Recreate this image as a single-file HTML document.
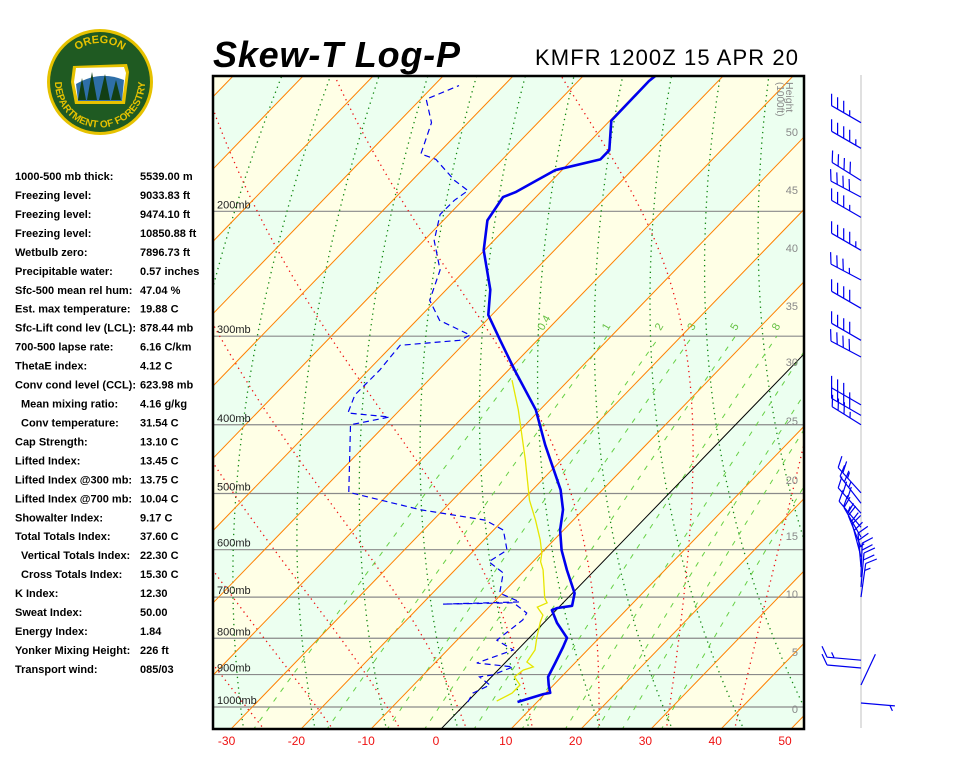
<!DOCTYPE html>
<html><head><meta charset="utf-8"><style>
html,body{margin:0;padding:0;background:#fff;width:960px;height:768px;overflow:hidden}
svg{display:block;font-family:"Liberation Sans",Arial,sans-serif}
</style></head><body>
<svg id="chart" width="960" height="768" viewBox="0 0 960 768" xmlns="http://www.w3.org/2000/svg">
<defs><clipPath id="plotclip"><rect x="214" y="77" width="589" height="651"/></clipPath>
<path id="arcTop" d="M 61 82 A 39 39 0 0 1 139 82"/>
<path id="arcBot" d="M 60 62 A 45 45 0 1 0 140 62"/></defs>
<g id="logo">
<circle cx="100" cy="82" r="53" fill="#e6c200"/>
<circle cx="100" cy="82" r="50" fill="#1f5a22"/>
<path d="M73 66 L127 64 L129 72 L125 104 L75 104 L71 82 Z" fill="#e6c200"/>
<path d="M76 68 L124 67 L126 73 L122 101 L78 101 L74 82 Z" fill="#fff"/>
<path d="M76 84 Q100 70 124 80 L122 101 L78 101 Z" fill="#2e6fa8"/>
<path d="M78 100 L82 78 L86 100 M87 100 L92 72 L97 100 M99 100 L105 74 L110 100 M111 100 L116 80 L121 100" fill="#123f14"/>
<text font-size="11" font-weight="bold" fill="#e6c200" text-anchor="middle"><textPath href="#arcTop" startOffset="50%">OREGON</textPath></text>
<text font-size="10" font-weight="bold" fill="#e6c200" text-anchor="middle"><textPath href="#arcBot" startOffset="50%">DEPARTMENT OF FORESTRY</textPath></text>
</g>
<text x="213" y="67" font-size="36" font-weight="bold" font-style="italic" textLength="247">Skew-T Log-P</text>
<text x="535" y="65" font-size="22" textLength="263">KMFR 1200Z 15 APR 20</text>
<g id="indices" font-size="11" font-weight="bold"></g>
<g id="plot" clip-path="url(#plotclip)"></g>
<g id="overlay"></g>
<rect x="213" y="76" width="591" height="653" fill="none" stroke="#000" stroke-width="2.5"/>
<line x1="861" y1="75" x2="861" y2="728" stroke="#e0e0e0" stroke-width="2"/>
<g id="barbs"></g>
</svg>
<script>
// ---- data ----
const tempP=[984,959,955,931,907,867,823,799,761,730,725,720,691,641,601,563,527,494,427,381,335,304,280,258,227,206,191,188,181,175,169,164,149,131,126];
const tempT=[7.2,9.8,10.6,9.3,8.1,7.2,6.1,5.4,1.9,-0.6,-0.1,1.7,0.3,-4.0,-7.5,-10.5,-12.9,-16.0,-24.4,-30.6,-39.1,-45.3,-50.5,-53.7,-60.1,-63.7,-64.7,-63.6,-62.2,-61.0,-56.0,-56.0,-59.8,-59.9,-59.4];
const dewP=[984,956,931,907,901,878,867,831,805,754,737,713,716,711,691,647,624,601,563,545,527,498,400,390,385,363,335,309,304,299,285,267,242,220,202,193,187,181,169,166,150,139,133];
const dewT=[0.1,-0.4,0.9,-1.7,-0.1,1.7,-4.0,-0.6,-4.3,-3.4,-3.8,-7.1,-17.0,-6.3,-10.4,-12.7,-16.3,-15.3,-18.6,-22.6,-33.3,-45.9,-55.0,-50.5,-57.0,-58.5,-58.4,-58.9,-51.1,-50.3,-56.7,-60.9,-63.6,-68.5,-71.3,-71.2,-70.6,-73.9,-79.5,-82.4,-85.2,-89.2,-86.4];
const wbP=[981,956,931,907,887,878,864,831,797,759,742,723,713,702,641,624,607,581,545,511,448,381,346];
const wbT=[4.1,5.2,5.2,3.3,3.6,4.6,3.0,2.5,1.0,-0.6,-1.2,-3.1,-2.3,-3.3,-7.4,-8.9,-9.9,-12.0,-15.4,-19.0,-25.2,-33.1,-38.1];
const pressureLevels=[200,300,400,500,600,700,800,900,1000];
const xTicks=[-30,-20,-10,0,10,20,30,40,50];
const heightTicks=[0,5,10,15,20,25,30,35,40,45,50];
const heightY=[709,652,594,536,480,421,362,306,248,190,132];
const mixRatios=[0.4,1,2,3,5,8,12,16,20,28];
const mixLabels=["0.4","1","2","3","5","8"];
const barbP=[150,163,181,191,204,227,250,274,304,321,375,388,400,499,516,533,558,576,595,614,635,656,677,700,859,881,931,987];
const barbDir=[300,300,302,298,300,300,298,300,300,298,300,300,302,318,322,318,320,330,338,345,355,2,5,8,275,275,25,95];
const barbSpd=[35,45,40,40,35,45,35,40,40,40,35,40,35,25,25,30,25,20,20,20,25,20,20,15,15,10,0,5];
const labels=["1000-500 mb thick:","Freezing level:","Freezing level:","Freezing level:","Wetbulb zero:","Precipitable water:","Sfc-500 mean rel hum:","Est. max temperature:","Sfc-Lift cond lev (LCL):","700-500 lapse rate:","ThetaE index:","Conv cond level (CCL):"," Mean mixing ratio:"," Conv temperature:","Cap Strength:","Lifted Index:","Lifted Index @300 mb:","Lifted Index @700 mb:","Showalter Index:","Total Totals Index:"," Vertical Totals Index:"," Cross Totals Index:","K Index:","Sweat Index:","Energy Index:","Yonker Mixing Height:","Transport wind:"];
const values=["5539.00 m","9033.83 ft","9474.10 ft","10850.88 ft","7896.73 ft","0.57 inches","47.04 %","19.88 C","878.44 mb","6.16 C/km","4.12 C","623.98 mb","4.16 g/kg","31.54 C","13.10 C","13.45 C","13.75 C","10.04 C","9.17 C","37.60 C","22.30 C","15.30 C","12.30","50.00","1.84","226 ft","085/03"];

// ---- axes ----
const NS='http://www.w3.org/2000/svg';
const Y0=729, TOP=76, PB=1074, SKEW=0.968;
function yP(p){return 707-308*Math.log(1000/p);}
function xT(t,y){return 441+7*t+SKEW*(Y0-y);}
function mk(tag,attrs,parent){const e=document.createElementNS(NS,tag);for(const k in attrs)e.setAttribute(k,attrs[k]);parent.appendChild(e);return e;}
function pathFrom(ps,ts){return ps.map((p,i)=>{const y=yP(p);return (i?'L':'M')+xT(ts[i],y).toFixed(1)+' '+y.toFixed(1);}).join(' ');}
const plot=document.getElementById('plot');
const overlay=document.getElementById('overlay');

// background bands
for(let a=-140;a<=60;a+=10){
  const k=Math.floor(a/10);
  const pts=[[xT(a,Y0),Y0],[xT(a+10,Y0),Y0],[xT(a+10,TOP),TOP],[xT(a,TOP),TOP]].map(q=>q.join(',')).join(' ');
  const band=mk('polygon',{points:pts,fill:(Math.abs(k)%2===0)?'#ecfff0':'#ffffe6'},plot);
  
  
}
// isobars
pressureLevels.forEach(p=>{
  const y=yP(p);
  const l=mk('line',{x1:214,x2:803,y1:y,y2:y,stroke:'#8a8a8a','stroke-width':1.2},plot);
  
  
});
// dry adiabats (display-scaled lapse)
for(let th=230;th<=520;th+=10){
  const Tb=th*Math.pow(PB/1000,0.2857)-273.15;
  let d='';
  for(let p=1080;p>=120;p-=10){const t=th*Math.pow(p/1000,0.2857)-273.15;const tp=Tb+0.7*(t-Tb);const y=yP(p);d+=(d?'L':'M')+xT(tp,y).toFixed(1)+' '+y.toFixed(1);}
  const e=mk('path',{d:d,fill:'none',stroke:'#118811','stroke-width':1.3,'stroke-dasharray':'1.3,4'},plot);
  
  
}
// moist adiabats (display-scaled)
function es(t){return 6.112*Math.exp(17.67*t/(t+243.5));}
function dTdp(T,p){const t=T-273.15;const e=es(t);const rs=0.622*e/(p-e);return (287*T+2.5e6*rs)/(p*(1004+2.5e6*2.5e6*rs*0.622/(287*T*T)));}
for(let t0=-40;t0<=45;t0+=10){
  let up=[],T=t0+273.15;
  for(let p=1000;p>=120;p-=2){up.push([p,T]);T-=dTdp(T,p)*2;}
  let dn=[];T=t0+273.15;
  for(let p=1000;p<=1080;p+=2){dn.push([p,T]);T+=dTdp(T,p)*2;}
  const all=dn.reverse().concat(up);
  let Tb=all[0][1];
  all.forEach(q=>{if(Math.abs(q[0]-PB)<2)Tb=q[1];});
  const d=all.map((q,i)=>{const y=yP(q[0]);const tp=Tb+1.18*(q[1]-Tb)-273.15;return (i?'L':'M')+xT(tp,y).toFixed(1)+' '+y.toFixed(1);}).join(' ');
  const e=mk('path',{d:d,fill:'none',stroke:'#ee1111','stroke-width':1.3,'stroke-dasharray':'1.3,4'},plot);
  
  
}
// mixing ratio lines
mixRatios.forEach((w,i)=>{
  let d='';
  for(let p=1080;p>=300;p-=10){const e=w*p/(622+w);const L=Math.log(e/6.112);const td=243.5*L/(17.67-L);const y=yP(p);d+=(d?'L':'M')+xT(td,y).toFixed(1)+' '+y.toFixed(1);}
  const e=mk('path',{d:d,fill:'none',stroke:'#66d044','stroke-width':1,'stroke-dasharray':'5,7'},plot);
  
  
  if(i<mixLabels.length){
    const e3=w*300/(622+w);const L=Math.log(e3/6.112);const td=243.5*L/(17.67-L);const y=yP(300)-5;
    const tx=mk('text',{x:xT(td,y)-4,y:y,'font-size':11,fill:'#66c044',transform:`rotate(-60 ${xT(td,y)-4} ${y})`},plot);
    tx.textContent=mixLabels[i];
    
    
  }
});
// isotherms
for(let t=-140;t<=60;t+=10){
  const e=mk('line',{x1:xT(t,Y0),y1:Y0,x2:xT(t,TOP),y2:TOP,stroke:t===0?'#000':'#ff8000','stroke-width':1},plot);
  
  
}
// profiles
const wb=mk('path',{d:pathFrom(wbP,wbT),fill:'none',stroke:'#e6e600','stroke-width':1.3},plot);


const dw=mk('path',{d:pathFrom(dewP,dewT),fill:'none',stroke:'#0000ee','stroke-width':1.2,'stroke-dasharray':'6,4'},plot);


const tp=mk('path',{d:pathFrom(tempP,tempT),fill:'none',stroke:'#0000ee','stroke-width':2.6,'stroke-linejoin':'round'},plot);


// pressure labels
pressureLevels.forEach(p=>{
  const t=mk('text',{x:217,y:yP(p)-3,'font-size':11,fill:'#222'},overlay);
  t.textContent=p+'mb';
  
  
});
// x ticks
xTicks.forEach(v=>{
  const t=mk('text',{x:436+6.98*v,y:745,'font-size':12,fill:'#ee1111','text-anchor':'middle'},overlay);
  t.textContent=v;
  
  
});
// height ticks
heightTicks.forEach((v,i)=>{
  const t=mk('text',{x:798,y:heightY[i]+4,'font-size':11,fill:'#888','text-anchor':'end'},overlay);
  t.textContent=v;
  
  
});
const ht=mk('text',{x:786,y:82,'font-size':10.5,fill:'#888',transform:'rotate(90 786 82)'},overlay);
ht.textContent='Height';


const ht2=mk('text',{x:777,y:82,'font-size':10,fill:'#888',transform:'rotate(90 777 82)'},overlay);
ht2.textContent='(1000ft)';


// indices table
const tbl=document.getElementById('indices');
labels.forEach((s,i)=>{
  const y=180+i*18.96;
  const indent=s.startsWith(' ');
  const a=mk('text',{x:indent?21:15,y:y},tbl);
  a.textContent=s.trim();
  
  
  const b=mk('text',{x:140,y:y},tbl);
  b.textContent=values[i];
  
  
});
// wind barbs
const bg=document.getElementById('barbs');
barbP.forEach((p,i)=>{
  const y=yP(p), x=861, r=barbDir[i]*Math.PI/180, L=34;
  const ux=Math.sin(r), uy=-Math.cos(r);
  const ex=x+ux*L, ey=y+uy*L;
  let d=`M${x} ${y.toFixed(1)} L${ex.toFixed(1)} ${ey.toFixed(1)}`;
  const ang=Math.atan2(uy,ux)+Math.PI/3;
  const bx=Math.cos(ang), by=Math.sin(ang);
  let s=barbSpd[i], pos=0;
  while(s>=10){const px=ex-ux*pos, py=ey-uy*pos;d+=` M${px.toFixed(1)} ${py.toFixed(1)} l${(bx*12).toFixed(1)} ${(by*12).toFixed(1)}`;pos+=7;s-=10;}
  if(s>=5){if(pos===0)pos=5;const px=ex-ux*pos, py=ey-uy*pos;d+=` M${px.toFixed(1)} ${py.toFixed(1)} l${(bx*6).toFixed(1)} ${(by*6).toFixed(1)}`;}
  const e=mk('path',{d:d,fill:'none',stroke:'#0000ee','stroke-width':1.2},bg);
  
  
});
</script>
</body></html>
